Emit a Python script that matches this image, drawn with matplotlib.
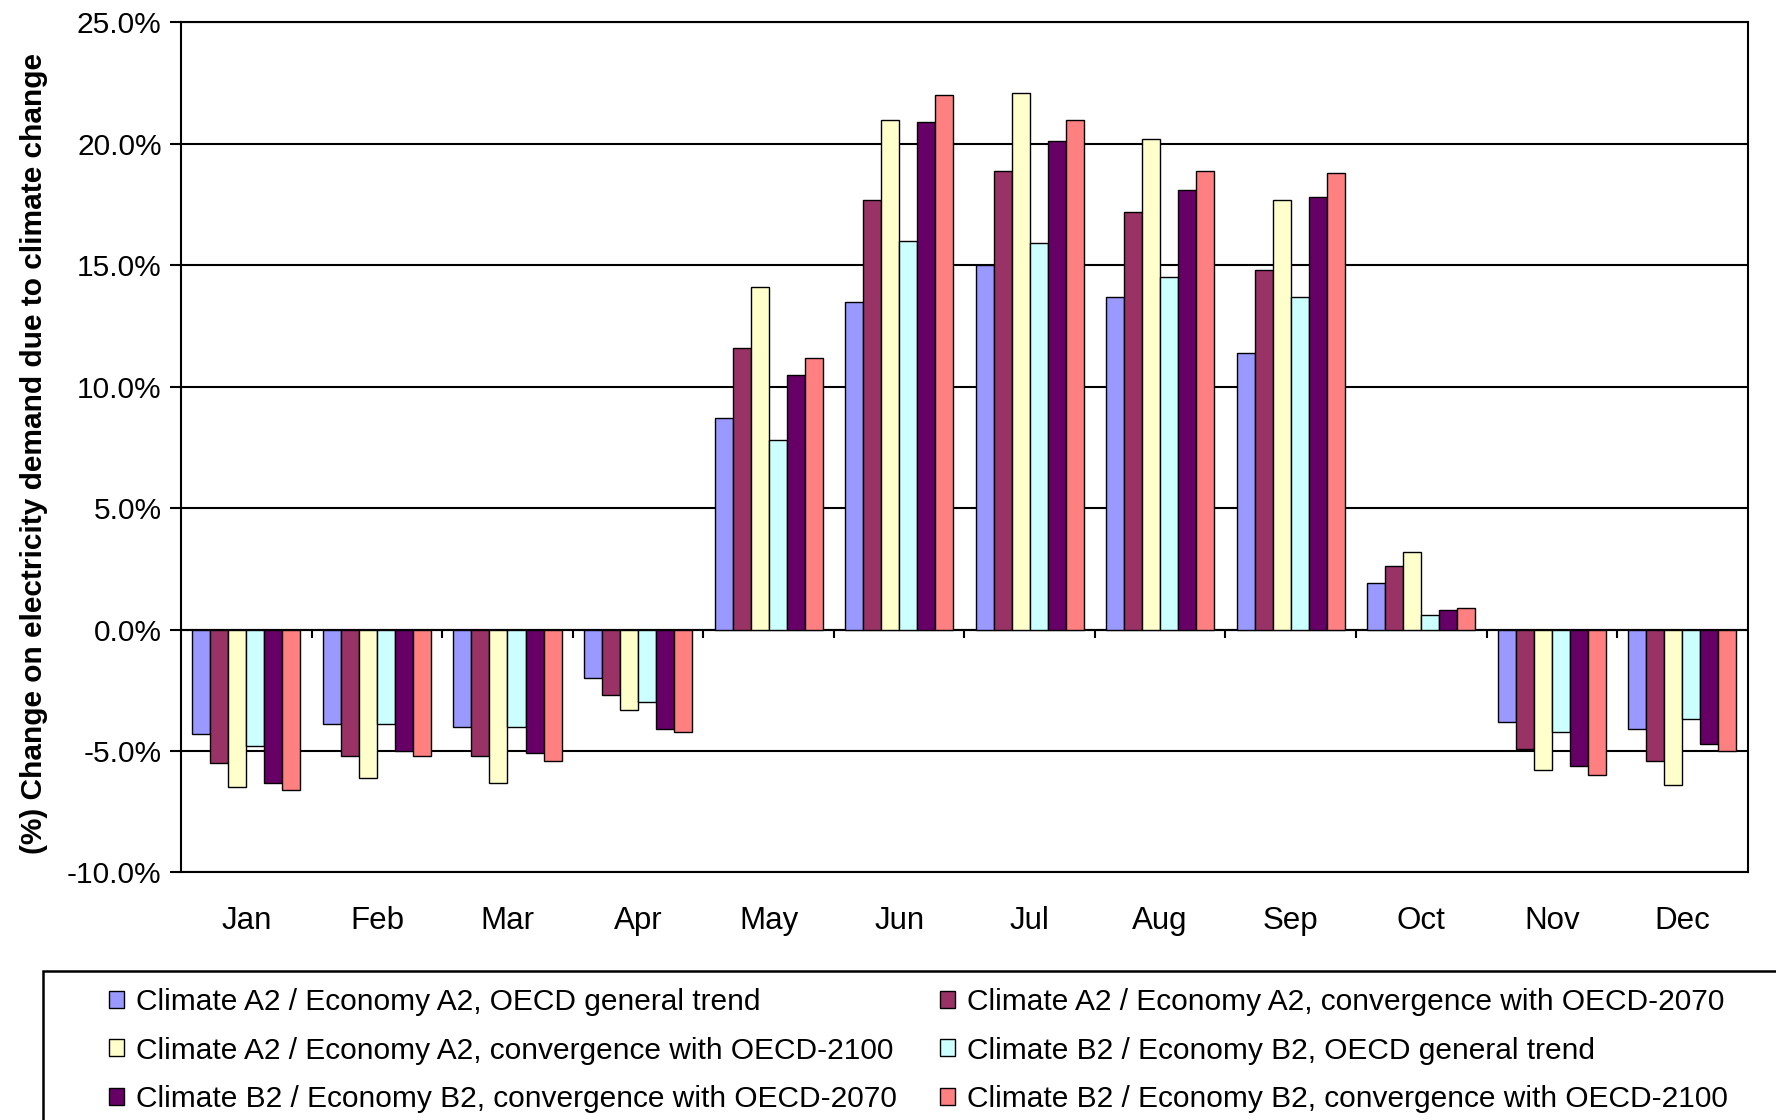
import numpy as np
import matplotlib
matplotlib.use('Agg')
from matplotlib import pyplot as plt
from matplotlib.patches import Rectangle

plt.rcParams['font.family'] = ['Liberation Sans', 'DejaVu Sans']

# data (% change)
months = ['Jan', 'Feb', 'Mar', 'Apr', 'May', 'Jun', 'Jul', 'Aug', 'Sep', 'Oct', 'Nov', 'Dec']
labels = ['Climate A2 / Economy A2, OECD general trend',
          'Climate A2 / Economy A2, convergence with OECD-2070',
          'Climate A2 / Economy A2, convergence with OECD-2100',
          'Climate B2 / Economy B2, OECD general trend',
          'Climate B2 / Economy B2, convergence with OECD-2070',
          'Climate B2 / Economy B2, convergence with OECD-2100']
a2_general = [-4.3, -3.9, -4.0, -2.0, 8.7, 13.5, 15.0, 13.7, 11.4, 1.9, -3.8, -4.1]
a2_2070 = [-5.5, -5.2, -5.2, -2.7, 11.6, 17.7, 18.9, 17.2, 14.8, 2.6, -4.9, -5.4]
a2_2100 = [-6.5, -6.1, -6.3, -3.3, 14.1, 21.0, 22.1, 20.2, 17.7, 3.2, -5.8, -6.4]
b2_general = [-4.8, -3.9, -4.0, -3.0, 7.8, 16.0, 15.9, 14.5, 13.7, 0.6, -4.2, -3.7]
b2_2070 = [-6.3, -5.0, -5.1, -4.1, 10.5, 20.9, 20.1, 18.1, 17.8, 0.8, -5.6, -4.7]
b2_2100 = [-6.6, -5.2, -5.4, -4.2, 11.2, 22.0, 21.0, 18.9, 18.8, 0.9, -6.0, -5.0]
series = [a2_general, a2_2070, a2_2100, b2_general, b2_2070, b2_2100]
colors = ['#9999FF', '#993366', '#FFFFCC', '#CCFFFF', '#660066', '#FF8080']

fig = plt.figure(figsize=(17.76, 11.2), dpi=100)
ax = fig.add_axes([0.102, 0.221, 0.882, 0.759])

x = np.arange(len(months))
w = 0.138
bars = []
for i, (vals, c) in enumerate(zip(series, colors)):
    b = ax.bar(x + (i - 2.5) * w, vals, w, color=c, edgecolor='black', linewidth=1.0, zorder=3)
    bars.append(b)

ax.set_xlim(-0.5, 11.5)
ax.set_ylim(-10, 25)
ax.set_yticks(np.arange(-10, 26, 5))
ax.set_yticklabels(['%.1f%%' % v for v in np.arange(-10, 26, 5)])
ax.yaxis.grid(True, color='black', linewidth=1.5)
ax.set_axisbelow(True)
ax.set_xticks(x)
ax.set_xticklabels(months)
ax.tick_params(axis='x', length=0, pad=24, labelsize=22.5)
ax.tick_params(axis='y', length=8, width=1.5, pad=6, labelsize=21.5)
for s in ax.spines.values():
    s.set_linewidth(1.5)

# category boundary ticks on the zero line
ax.vlines(x[:-1] + 0.5, -0.33, 0, color='black', linewidth=1.5, zorder=4)
ax.axhline(0, color='black', linewidth=1.5, zorder=2)

fig.text(0.019, 0.595, '(%) Change on electricity demand due to climate change',
         rotation=90, ha='center', va='center', fontsize=21.5, fontweight='bold')

# legend box
fig.patches.append(Rectangle((43 / 1776, -0.02), 1.0, 0.153, transform=fig.transFigure,
                             fill=False, edgecolor='black', linewidth=1.8))
order = [0, 2, 4, 1, 3, 5]
fig.legend([bars[i] for i in order], [labels[i] for i in order], ncol=2,
           loc='upper left', bbox_to_anchor=(0.053, 0.131), frameon=False,
           fontsize=21.5, handlelength=0.5, handleheight=0.5, handletextpad=0.4,
           labelspacing=0.68, columnspacing=1.45, borderpad=0)

fig.savefig('out.png', dpi=100)
